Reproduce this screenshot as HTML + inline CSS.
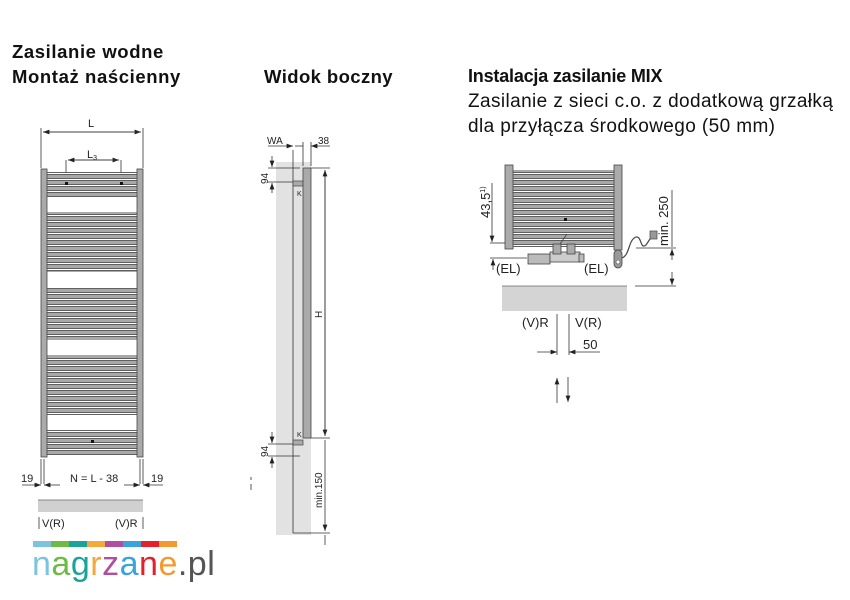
<!DOCTYPE html>
<html><head><meta charset="utf-8"><style>
html,body{margin:0;padding:0;background:#fff;}
body{width:850px;height:600px;position:relative;overflow:hidden;font-family:"Liberation Sans",Arial,sans-serif;}
.t{position:absolute;color:#111;white-space:nowrap;}
.b{font-weight:bold;font-size:18.5px;}
.r{font-size:19px;letter-spacing:0.4px;}
</style></head><body>
<div class="t b" style="left:12px;top:41px;letter-spacing:0.6px">Zasilanie wodne</div>
<div class="t b" style="left:12px;top:66px;letter-spacing:0.6px">Montaż naścienny</div>
<div class="t b" style="left:264px;top:66px;letter-spacing:0.4px">Widok boczny</div>
<div class="t b" style="left:468px;top:66px;font-size:18px;letter-spacing:-0.2px">Instalacja zasilanie MIX</div>
<div class="t r" style="left:468px;top:91px">Zasilanie z sieci c.o. z dodatkową grzałką</div>
<div class="t r" style="left:468px;top:116px">dla przyłącza środkowego (50 mm)</div>

<svg width="850" height="600" style="position:absolute;left:0;top:0" xmlns="http://www.w3.org/2000/svg" font-family="Liberation Sans, Arial, sans-serif">
<defs>
<pattern id="rails" x="0" y="0" width="10" height="6" patternUnits="userSpaceOnUse">
<rect x="0" y="0" width="10" height="6" fill="#fff"/>
<rect x="-1" y="0.5" width="12" height="4" fill="#a8a8a8" stroke="#444" stroke-width="0.8"/>
</pattern>
<marker id="ar" markerWidth="8" markerHeight="6" refX="8" refY="3" orient="auto"><path d="M0,0 L8,3 L0,6z" fill="#222"/></marker>
</defs>
<g stroke="#333" stroke-width="0.8" fill="none">
<line x1="41" y1="128" x2="41" y2="168"/><line x1="143" y1="128" x2="143" y2="168"/>
<line x1="43" y1="132" x2="141" y2="132" marker-end="url(#ar)"/><line x1="141" y1="132" x2="43" y2="132" marker-end="url(#ar)"/>
<line x1="66" y1="160" x2="66" y2="185"/><line x1="121" y1="160" x2="121" y2="185"/>
<line x1="68" y1="160" x2="119" y2="160" marker-end="url(#ar)"/><line x1="119" y1="160" x2="68" y2="160" marker-end="url(#ar)"/>
</g>
<rect x="47" y="172" width="90" height="25" fill="url(#rails)"/>
<rect x="47" y="212" width="90" height="60" fill="url(#rails)"/>
<rect x="47" y="287" width="90" height="53" fill="url(#rails)"/>
<rect x="47" y="355" width="90" height="60" fill="url(#rails)"/>
<rect x="47" y="430" width="90" height="25" fill="url(#rails)"/>
<rect x="41" y="169" width="6" height="288" fill="#aaa" stroke="#444" stroke-width="0.8"/>
<rect x="137" y="169" width="6" height="288" fill="#aaa" stroke="#444" stroke-width="0.8"/>
<rect x="65" y="182" width="3" height="3" fill="#111"/><rect x="120" y="182" width="3" height="3" fill="#111"/>
<rect x="91" y="440" width="3" height="3" fill="#111"/>
<text x="88" y="127" font-size="11" fill="#222">L</text>
<text x="87" y="158" font-size="11" fill="#222">L<tspan font-size="7" dy="2">3</tspan></text>
<g stroke="#333" stroke-width="0.8" fill="none">
<line x1="41" y1="459" x2="41" y2="484"/><line x1="44" y1="459" x2="44" y2="484"/>
<line x1="140" y1="459" x2="140" y2="484"/><line x1="143" y1="459" x2="143" y2="484"/>
<line x1="22" y1="485" x2="41" y2="485" marker-end="url(#ar)"/>
<line x1="60" y1="485" x2="44" y2="485" marker-end="url(#ar)"/>
<line x1="124" y1="485" x2="140" y2="485" marker-end="url(#ar)"/>
<line x1="163" y1="485" x2="143" y2="485" marker-end="url(#ar)"/>
<line x1="39" y1="517" x2="39" y2="529"/><line x1="143" y1="517" x2="143" y2="529"/>
</g>
<text x="21" y="482" font-size="11" fill="#222">19</text>
<text x="70" y="482" font-size="11" fill="#222">N = L - 38</text>
<text x="151" y="482" font-size="11" fill="#222">19</text>
<rect x="38" y="500" width="105" height="12" fill="#d0d0d0"/>
<line x1="38" y1="500" x2="143" y2="500" stroke="#666" stroke-width="0.8"/>
<text x="42" y="527" font-size="11" fill="#222">V(R)</text>
<text x="115" y="527" font-size="11" fill="#222">(V)R</text>

<rect x="276" y="162" width="35" height="373" fill="#e2e2e2"/>
<g stroke="#333" stroke-width="0.8" fill="none">
<line x1="293" y1="150" x2="293" y2="533"/>
<line x1="293" y1="533" x2="311" y2="533"/>
<line x1="303" y1="142" x2="303" y2="166"/><line x1="311" y1="142" x2="311" y2="166"/>
<line x1="268" y1="146" x2="293" y2="146" marker-end="url(#ar)"/>
<line x1="330" y1="146" x2="311" y2="146" marker-end="url(#ar)"/>
<line x1="295" y1="146" x2="303" y2="146"/>
<line x1="310" y1="168" x2="330" y2="168"/><line x1="310" y1="438" x2="330" y2="438"/>
<line x1="325" y1="170" x2="325" y2="436" marker-end="url(#ar)"/><line x1="325" y1="436" x2="325" y2="170" marker-end="url(#ar)"/>
<line x1="310" y1="533" x2="330" y2="533"/>
<line x1="325" y1="440" x2="325" y2="531" marker-end="url(#ar)"/><line x1="325" y1="535" x2="325" y2="545"/>
<line x1="268" y1="168" x2="300" y2="168"/><line x1="268" y1="182" x2="300" y2="182"/>
<line x1="272" y1="156" x2="272" y2="167" marker-end="url(#ar)"/><line x1="272" y1="193" x2="272" y2="183" marker-end="url(#ar)"/>
<line x1="268" y1="444" x2="300" y2="444"/><line x1="268" y1="456" x2="300" y2="456"/>
<line x1="272" y1="432" x2="272" y2="443" marker-end="url(#ar)"/><line x1="272" y1="468" x2="272" y2="457" marker-end="url(#ar)"/>
</g>
<rect x="293" y="181" width="10" height="5" fill="#aaa" stroke="#444" stroke-width="0.7"/>
<rect x="293" y="440" width="10" height="5" fill="#aaa" stroke="#444" stroke-width="0.7"/>
<rect x="303" y="168" width="8" height="270" fill="#aaa" stroke="#444" stroke-width="0.8"/>
<text x="267" y="144" font-size="10" fill="#222">WA</text>
<text x="318" y="144" font-size="10" fill="#222">38</text>
<text x="297" y="196" font-size="7" fill="#222">K</text>
<text x="297" y="437" font-size="7" fill="#222">K</text>
<text transform="translate(268,184) rotate(-90)" font-size="10" fill="#222">94</text>
<text transform="translate(268,457) rotate(-90)" font-size="10" fill="#222">94</text>
<text transform="translate(322,318) rotate(-90)" font-size="10" fill="#222">H</text>
<text transform="translate(322,508) rotate(-90)" font-size="10" fill="#222">min.150</text>
<line x1="251" y1="477" x2="251" y2="480" stroke="#555"/><line x1="251" y1="484" x2="251" y2="490" stroke="#555"/>

<rect x="513" y="170" width="101" height="77" fill="url(#rails)"/>
<rect x="505" y="165" width="8" height="84" fill="#aaa" stroke="#444" stroke-width="0.8"/>
<rect x="614" y="165" width="8" height="85" fill="#aaa" stroke="#444" stroke-width="0.8"/>
<rect x="564" y="218" width="3" height="3" fill="#111"/>
<rect x="614" y="250" width="8" height="18" rx="4" fill="#999" stroke="#444" stroke-width="0.8"/>
<circle cx="618" cy="262" r="2" fill="#fff" stroke="#444" stroke-width="0.6"/>
<path d="M622,258 C630,255 628,240 636,237 C642,236 640,250 646,245 L652,236" stroke="#444" fill="none" stroke-width="1.2"/>
<rect x="650" y="231" width="7" height="8" fill="#999" stroke="#444" stroke-width="0.7"/>
<rect x="528" y="254" width="22" height="10" fill="#bbb" stroke="#444" stroke-width="0.8"/>
<rect x="550" y="252" width="30" height="10" fill="#ccc" stroke="#444" stroke-width="0.8"/>
<rect x="553" y="244" width="8" height="10" fill="#aaa" stroke="#444" stroke-width="0.8"/>
<rect x="567" y="244" width="8" height="10" fill="#aaa" stroke="#444" stroke-width="0.8"/>
<rect x="579" y="254" width="5" height="8" fill="#bbb" stroke="#444" stroke-width="0.8"/>
<line x1="560" y1="244" x2="567" y2="234" stroke="#444" stroke-width="0.8"/>
<g stroke="#333" stroke-width="0.8" fill="none">
<line x1="490" y1="243" x2="505" y2="243"/><line x1="490" y1="258" x2="527" y2="258"/>
<line x1="492" y1="183" x2="492" y2="242" marker-end="url(#ar)"/>
<line x1="493" y1="270" x2="493" y2="259" marker-end="url(#ar)"/>
<line x1="636" y1="248" x2="676" y2="248"/><line x1="635" y1="286" x2="676" y2="286"/>
<line x1="672" y1="260" x2="672" y2="249" marker-end="url(#ar)"/>
<line x1="672" y1="272" x2="672" y2="285" marker-end="url(#ar)"/>
<line x1="672" y1="190" x2="672" y2="247"/>
<line x1="557" y1="314" x2="557" y2="355"/><line x1="569" y1="314" x2="569" y2="355"/>
<line x1="537" y1="352" x2="557" y2="352" marker-end="url(#ar)"/>
<line x1="600" y1="352" x2="569" y2="352" marker-end="url(#ar)"/>
<line x1="557" y1="403" x2="557" y2="378" marker-end="url(#ar)"/>
<line x1="568" y1="377" x2="568" y2="402" marker-end="url(#ar)"/>
</g>
<rect x="502" y="286" width="125" height="25" fill="#d4d4d4"/>
<line x1="502" y1="286" x2="627" y2="286" stroke="#666" stroke-width="0.8"/>
<text transform="translate(490,218) rotate(-90)" font-size="13" fill="#222">43,5<tspan font-size="7" dy="-5">1)</tspan></text>
<text transform="translate(668,246) rotate(-90)" font-size="13" fill="#222">min. 250</text>
<text x="496" y="273" font-size="13" fill="#222">(EL)</text>
<text x="584" y="273" font-size="13" fill="#222">(EL)</text>
<text x="522" y="327" font-size="13" fill="#222">(V)R</text>
<text x="575" y="327" font-size="13" fill="#222">V(R)</text>
<text x="583" y="349" font-size="13" fill="#222">50</text>

<rect x="33" y="541" width="18" height="6" fill="#7cc3e0"/>
<rect x="51" y="541" width="18" height="6" fill="#6dbb45"/>
<rect x="69" y="541" width="18" height="6" fill="#1aa39a"/>
<rect x="87" y="541" width="18" height="6" fill="#f5a83a"/>
<rect x="105" y="541" width="18" height="6" fill="#b04fa0"/>
<rect x="123" y="541" width="18" height="6" fill="#3aa3dc"/>
<rect x="141" y="541" width="18" height="6" fill="#e4202a"/>
<rect x="159" y="541" width="18" height="6" fill="#f39a2f"/>
<text x="32" y="575" font-size="34" letter-spacing="0.5"><tspan fill="#7cc3e0">n</tspan><tspan fill="#6dbb45">a</tspan><tspan fill="#1aa39a">g</tspan><tspan fill="#f5a83a">r</tspan><tspan fill="#b04fa0">z</tspan><tspan fill="#3aa3dc">a</tspan><tspan fill="#e4202a">n</tspan><tspan fill="#f39a2f">e</tspan><tspan fill="#555">.pl</tspan></text>
</svg>
</body></html>
